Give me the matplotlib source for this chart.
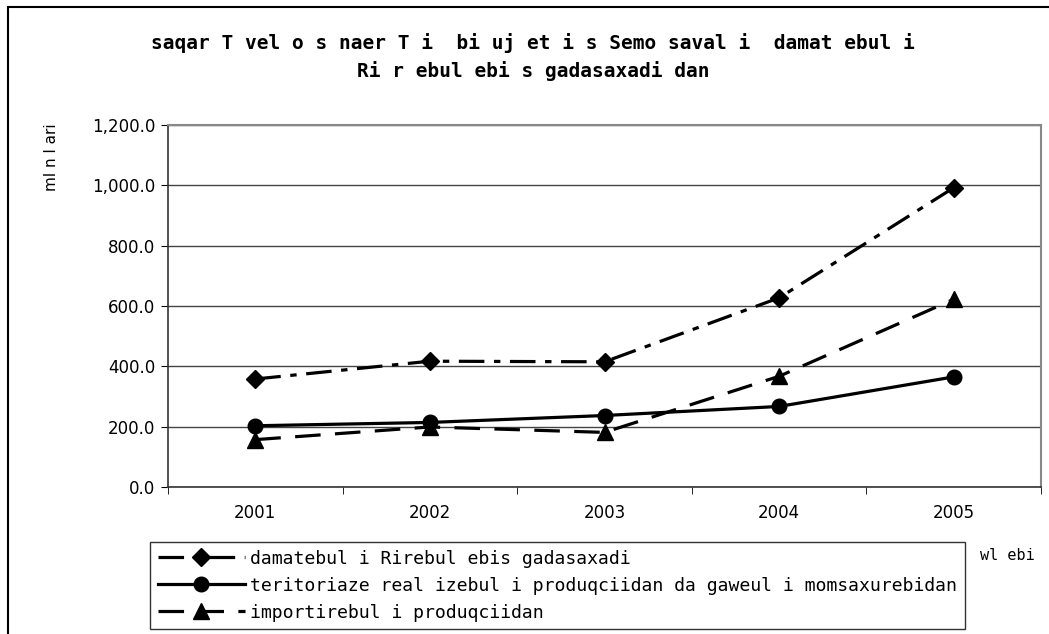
import numpy as np
import matplotlib
matplotlib.use("Agg")
from matplotlib import pyplot as plt
from matplotlib.patches import Rectangle

# data
wlebi = ["2001", "2002", "2003", "2004", "2005"]
damatebuli = [358, 417, 415, 627, 992]
teritoriaze = [203, 214, 237, 267, 365]
importi = [157, 199, 181, 367, 622]
yticks = [0, 200, 400, 600, 800, 1000, 1200]

sataur = ("saqar T vel o s naer T i  bi uj et i s Semo saval i  damat ebul i\n"
          "Ri r ebul ebi s gadasaxadi dan")
leg_names = ["damatebul i Rirebul ebis gadasaxadi",
             "teritoriaze real izebul i produqciidan da gaweul i momsaxurebidan",
             "importirebul i produqciidan"]

W, H = 1049, 634
fig = plt.figure(figsize=(W / 100, H / 100), dpi=100)
plt.rcParams['font.family'] = ['DejaVu Sans']

# outer chart border (cut off at right and bottom)
fig.patches.append(Rectangle((8 / W, -0.1), 1.2, 1 - 7 / H + 0.1, transform=fig.transFigure,
                             fill=False, edgecolor="black", linewidth=1.5))

ax = fig.add_axes([168 / W, 1 - 487 / H, (1041 - 168) / W, (487 - 125) / H])
x = np.arange(len(wlebi))

l1, = ax.plot(x, damatebuli, color="black", lw=2.3, marker="D", ms=9.5,
              dashes=(8, 3, 2, 3))
l2, = ax.plot(x, teritoriaze, color="black", lw=2.3, marker="o", ms=10.5)
l3, = ax.plot(x, importi, color="black", lw=2.3, marker="^", ms=11.5,
              dashes=(8, 4.5))

ax.set_xlim(-0.5, len(wlebi) - 0.5)
ax.set_ylim(0, 1200)
ax.set_yticks(yticks)
ax.set_yticklabels([f"{v:,.1f}" for v in yticks], fontsize=12)
ax.yaxis.grid(True, color="#444444", linewidth=1)
ax.set_axisbelow(True)

ax.set_xticks(x)
ax.set_xticklabels(wlebi, fontsize=12)
ax.set_xticks(np.arange(-0.5, len(wlebi)), minor=True)
ax.tick_params(axis="x", which="major", length=0, pad=12)
ax.tick_params(axis="x", which="minor", length=5, direction="out", color="black")
ax.tick_params(axis="y", length=5, direction="out", pad=4)

for s in ["top", "right"]:
    ax.spines[s].set_color("#888888")
    ax.spines[s].set_linewidth(1.5)
for s in ["left", "bottom"]:
    ax.spines[s].set_color("#333333")
    ax.spines[s].set_linewidth(1.2)

fig.text(533 / W, 1 - 57 / H, sataur, ha="center", va="center", fontsize=14,
         family="DejaVu Sans Mono", fontweight="bold", linespacing=1.5)
fig.text(52 / W, 1 - 157 / H, "ml n l ari", rotation=90, ha="center", va="center",
         fontsize=11)
fig.text(1007 / W, 1 - 555 / H, "wl ebi", ha="center", va="center",
         fontsize=11, family="DejaVu Sans Mono")

leg = fig.legend([l1, l2, l3], leg_names, loc="upper left",
                 bbox_to_anchor=(150 / W, 1 - 542 / H), bbox_transform=fig.transFigure,
                 borderaxespad=0, frameon=True, fancybox=False, numpoints=1,
                 handlelength=4.8, handletextpad=0.3, labelspacing=0.5,
                 borderpad=0.42, prop={"family": "DejaVu Sans Mono", "size": 13.1})
leg.get_frame().set_edgecolor("black")
leg.get_frame().set_linewidth(1.0)

fig.savefig("out.png", dpi=100)
